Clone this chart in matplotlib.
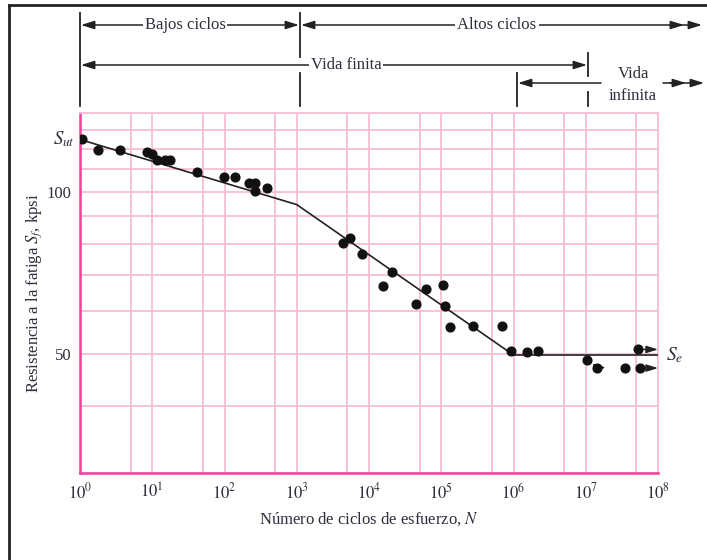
import matplotlib
matplotlib.use("Agg")
from matplotlib import pyplot as plt
from matplotlib.lines import Line2D
from matplotlib.patches import FancyArrowPatch
from matplotlib.ticker import NullFormatter

# datos de ensayo (N ciclos, resistencia a la fatiga en kpsi)
n_ciclos = [1.05, 1.8, 3.6, 8.4, 9.9, 11.6, 15.1, 17.7, 42, 99, 141, 216, 267, 267, 387,
            4400, 5500, 8050, 15700, 21000, 45100, 60700, 106600, 112500, 132000,
            275000, 703000, 916000, 1.56e6, 2.19e6, 1.04e7]
s_f = [125, 119.3, 119.7, 118.4, 117.6, 114.3, 114.6, 114.6, 108.7, 106.3, 106.3, 103.6,
       103.6, 100.4, 101.6, 80.4, 81.9, 76.7, 66.9, 71.0, 61.7, 66.0, 67.0, 61.2, 56.0,
       56.2, 56.2, 50.6, 50.3, 50.6, 48.7]

# probetas que no fallaron (con flecha)
n_sin_falla = [1.43e7, 3.49e7, 5.33e7, 5.69e7]
s_sin_falla = [47.1, 47.0, 50.9, 47.0]
con_flecha = [True, False, True, True]
fin_flecha = [1.9e7, None, 1e8, 1e8]

# curva S-N ajustada
n_curva = [1, 1e3, 1e6, 1e8]
s_curva = [125, 94.6, 49.7, 49.7]

decadas = [10 ** k for k in range(9)]
etiquetas_x = [r"$10^{%d}$" % k for k in range(9)]
cincos = [5 * 10 ** k for k in range(8)]
rejilla_y = [30, 40, 50, 60, 70, 80, 90, 100, 110, 120, 130, 140]

plt.rcParams['font.family'] = ['Liberation Serif', 'DejaVu Serif']
plt.rcParams['mathtext.fontset'] = 'stix'

texto = '#2e2e3c'
rosa = '#f7bdd6'
magenta = '#f0409a'

W, H = 707, 560
fig = plt.figure(figsize=(W / 100, H / 100), dpi=100)
ax = fig.add_axes([80 / W, 1 - 473 / H, 578 / W, 360 / H])

ax.set_xscale('log')
ax.set_yscale('log')
ax.set_xlim(1, 1e8)
ax.set_ylim(30, 140)

ax.set_xticks(decadas, etiquetas_x)
ax.set_xticks(cincos, minor=True)
ax.xaxis.set_minor_formatter(NullFormatter())
ax.set_yticks([50, 100], ['50', '100'])
ax.set_yticks([v for v in rejilla_y if v not in (50, 100)], minor=True)
ax.yaxis.set_minor_formatter(NullFormatter())
ax.grid(True, which='both', color=rosa, linewidth=1.3)
ax.set_axisbelow(True)
ax.tick_params(which='both', length=0, labelsize=12, labelcolor=texto)
ax.tick_params(axis='x', pad=7)
ax.tick_params(axis='y', pad=6)

for lado in ['top', 'right']:
    ax.spines[lado].set_color(rosa)
    ax.spines[lado].set_linewidth(1.3)
for lado in ['left', 'bottom']:
    ax.spines[lado].set_color(magenta)
    ax.spines[lado].set_linewidth(1.8)

ax.plot(n_curva, s_curva, color='#222222', linewidth=1.2, zorder=3)
ax.plot(n_ciclos, s_f, 'o', color='#111111', markersize=6.3, zorder=4)
ax.plot(n_sin_falla, s_sin_falla, 'o', color='#111111', markersize=6.3, zorder=4)
for n, s, f, fin in zip(n_sin_falla, s_sin_falla, con_flecha, fin_flecha):
    if f:
        ax.annotate('', xy=(fin, s), xytext=(n, s),
                    arrowprops=dict(arrowstyle='-|>,head_length=0.7,head_width=0.22',
                                    color='#222222', lw=1.0, shrinkA=0, shrinkB=0),
                    annotation_clip=False)

ax.text(0.84, 125, r'$S_{ut}$', fontsize=13.5, color=texto, ha='right', va='center')
ax.text(1.3e8, 49.7, r'$S_e$', fontsize=14, color=texto, ha='left', va='center')

ax.set_xlabel(r'Número de ciclos de esfuerzo, $N$', fontsize=12, color=texto)
ax.set_ylabel(r'Resistencia a la fatiga $S_f$, kpsi', fontsize=12, color=texto)
ax.xaxis.set_label_coords(0.5, -0.103)
ax.yaxis.set_label_coords(-0.062, 0.5)


def px(x, y):
    return x / W, 1 - y / H


def linea(x0, y0, x1, y1, lw=1.3):
    a, b = px(x0, y0)
    c, d = px(x1, y1)
    fig.add_artist(Line2D([a, c], [b, d], color='#222222', linewidth=lw,
                          transform=fig.transFigure))


def flecha(x0, x1, y, estilo):
    fig.add_artist(FancyArrowPatch(px(x0, y), px(x1, y), transform=fig.transFigure,
                                   arrowstyle=estilo, mutation_scale=10,
                                   color='#222222', lw=1.1, shrinkA=0, shrinkB=0))


punta = ',head_length=0.8,head_width=0.25'

# marco
linea(9, 5, 9, 560, lw=2)
linea(9, 5, 707, 5, lw=2)

# lineas verticales de referencia
linea(80, 13, 80, 106)
linea(300, 13, 300, 57)
linea(300, 73, 300, 106)
linea(588, 53, 588, 76)
linea(588, 92, 588, 106)
linea(517, 73, 517, 106)

# fila 1
flecha(81, 299, 25, '<|-|>' + punta)
flecha(301, 702, 25, '<|-|>' + punta)
flecha(670, 684, 25, '-|>' + punta)
# fila 2
flecha(81, 587, 65, '<|-|>' + punta)
# fila 3
flecha(518, 601, 83, '<|-' + punta)
flecha(663, 704, 83, '-|>' + punta)
flecha(670, 686, 83, '-|>' + punta)

caja = dict(facecolor='white', edgecolor='none', pad=1.5)
for t, x, y in [('Bajos ciclos', 185, 25), ('Altos ciclos', 497, 25), ('Vida finita', 346, 65)]:
    a, b = px(x, y)
    fig.text(a, b, t, fontsize=12, color=texto, ha='center', va='center', bbox=caja)
a, b = px(633, 85)
fig.text(a, b, 'Vida\ninfinita', fontsize=12, color=texto, ha='center', va='center',
         linespacing=1.5)

fig.savefig('out.png', dpi=100)
